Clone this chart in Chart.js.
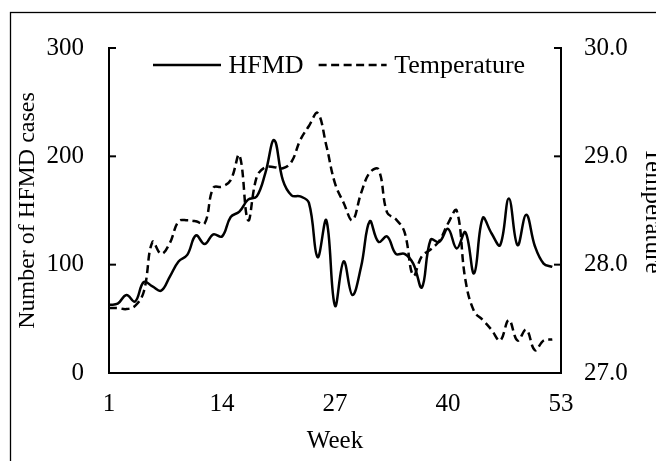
<!DOCTYPE html>
<html>
<head>
<meta charset="utf-8">
<style>
html,body{margin:0;padding:0;overflow:hidden;background:#fff;width:656px;height:461px}
canvas{display:block}
</style>
<script src="https://cdn.jsdelivr.net/npm/chart.js@4.4.0/dist/chart.umd.min.js"></script>
</head>
<body>
<canvas id="c" width="700" height="480"></canvas>
<script>
const weeks = [1,2,3,4,5,6,7,8,9,10,11,12,13,14,15,16,17,18,19,20,21,22,23,24,25,26,
  27,28,29,30,31,32,33,34,35,36,37,38,39,40,41,42,43,44,45,46,47,48,49,50,51,52];
const hfmdCases = [63,64,72,66,84,80,76,89,103,109,127,119,128,126,144,149,160,163,185,215,178,164,163,157,107,141,
  62,103,72,98,140,121,126,110,110,101,79,123,121,133,115,130,92,143,129,118,161,118,146,117,101,98];
const temperature = [27.60,27.60,27.59,27.62,27.75,28.21,28.10,28.20,28.40,28.41,28.40,28.38,28.71,28.72,28.78,29.01,28.41,28.81,28.90,28.90,28.89,28.95,29.15,29.28,29.40,29.10,
  28.75,28.57,28.41,28.66,28.85,28.88,28.48,28.42,28.30,27.90,28.08,28.14,28.22,28.38,28.50,27.86,27.57,27.49,27.40,27.30,27.49,27.30,27.40,27.21,27.30,27.31];
const xTickLabels = [1,14,27,40,53];
const leftTickValues = [0,100,200,300];
const rightTickValues = [27,28,29,30];
const seriesNames = ['HFMD','Temperature'];

const FONT = "'Liberation Serif','Times New Roman',serif";
Chart.defaults.font.family = FONT;
Chart.defaults.font.size = 25;
Chart.defaults.color = '#000';

const framePlugin = {
  id: 'frame',
  beforeDraw(chart) {
    const ctx = chart.ctx;
    ctx.save();
    ctx.fillStyle = '#fff';
    ctx.fillRect(0, 0, chart.width, chart.height);
    ctx.strokeStyle = '#000';
    ctx.lineWidth = 1.3;
    ctx.strokeRect(10.5, 12.5, chart.width + 50, chart.height + 50);
    ctx.restore();
  }
};

const tickMarkPlugin = {
  id: 'tickMarks',
  afterDraw(chart) {
    const ctx = chart.ctx, a = chart.chartArea;
    ctx.save();
    ctx.strokeStyle = '#000';
    ctx.lineWidth = 2;
    const y = chart.scales.y, y1 = chart.scales.y1;
    y.ticks.forEach(t => {
      const p = y.getPixelForValue(t.value);
      ctx.beginPath(); ctx.moveTo(a.left, p); ctx.lineTo(a.left + 7, p); ctx.stroke();
    });
    y1.ticks.forEach(t => {
      const p = y1.getPixelForValue(t.value);
      ctx.beginPath(); ctx.moveTo(a.right - 7, p); ctx.lineTo(a.right, p); ctx.stroke();
    });
    ctx.restore();
  }
};

const legendPlugin = {
  id: 'innerLegend',
  afterDraw(chart) {
    const ctx = chart.ctx, a = chart.chartArea;
    ctx.save();
    ctx.font = '26px ' + FONT;
    ctx.textBaseline = 'middle';
    ctx.fillStyle = '#000';
    const yMid = a.top + 17;
    let x = a.left + 44;
    const sampleLen = 68;
    chart.data.datasets.forEach((ds, i) => {
      ctx.strokeStyle = ds.borderColor;
      ctx.lineWidth = ds.borderWidth;
      ctx.setLineDash(ds.borderDash || []);
      ctx.beginPath(); ctx.moveTo(x, yMid); ctx.lineTo(x + sampleLen, yMid); ctx.stroke();
      ctx.setLineDash([]);
      x += sampleLen + 7.5;
      ctx.fillText(ds.label, x, yMid + 1);
      x += ctx.measureText(ds.label).width + 15;
    });
    ctx.restore();
  }
};

new Chart(document.getElementById('c'), {
  type: 'line',
  data: {
    datasets: [
      {
        label: seriesNames[0],
        data: weeks.map((w, i) => ({x: w, y: hfmdCases[i]})),
        yAxisID: 'y',
        borderColor: '#000',
        borderWidth: 2.5,
        pointRadius: 0,
        tension: 0.4,
        fill: false
      },
      {
        label: seriesNames[1],
        data: weeks.map((w, i) => ({x: w, y: temperature[i]})),
        yAxisID: 'y1',
        borderColor: '#000',
        borderWidth: 2.5,
        borderDash: [8, 4.5],
        pointRadius: 0,
        tension: 0.4,
        fill: false
      }
    ]
  },
  options: {
    responsive: false,
    animation: false,
    layout: {padding: {left: 0, top: 48, right: 32, bottom: 24}},
    plugins: {legend: {display: false}, tooltip: {enabled: false}},
    scales: {
      x: {
        type: 'linear',
        min: 1, max: 53,
        afterBuildTicks: s => { s.ticks = xTickLabels.map(v => ({value: v})); },
        afterFit: s => { s.height = 83; },
        ticks: {padding: 8, autoSkip: false, maxRotation: 0, color: '#000'},
        grid: {display: false},
        border: {display: true, width: 2, color: '#000'},
        title: {display: true, text: 'Week', padding: {top: 0, bottom: 0}, color: '#000'}
      },
      y: {
        position: 'left',
        min: 0, max: 300,
        afterBuildTicks: s => { s.ticks = leftTickValues.map(v => ({value: v})); },
        afterFit: s => { s.width = 109; },
        ticks: {padding: 17, color: '#000'},
        grid: {display: false},
        border: {display: true, width: 2, color: '#000'},
        title: {display: true, text: 'Number of HFMD cases', padding: {top: 13.6, bottom: 0}, font: {size: 24}, color: '#000'}
      },
      y1: {
        position: 'right',
        min: 27, max: 30,
        afterBuildTicks: s => { s.ticks = rightTickValues.map(v => ({value: v})); },
        afterFit: s => { s.width = 107; },
        ticks: {padding: 15, color: '#000', callback: v => Number(v).toFixed(1)},
        grid: {display: false},
        border: {display: true, width: 2, color: '#000'},
        title: {display: true, text: 'Temperature', padding: {top: 0, bottom: 0}, color: '#000'}
      }
    }
  },
  plugins: [framePlugin, tickMarkPlugin, legendPlugin]
});
</script>
</body>
</html>
